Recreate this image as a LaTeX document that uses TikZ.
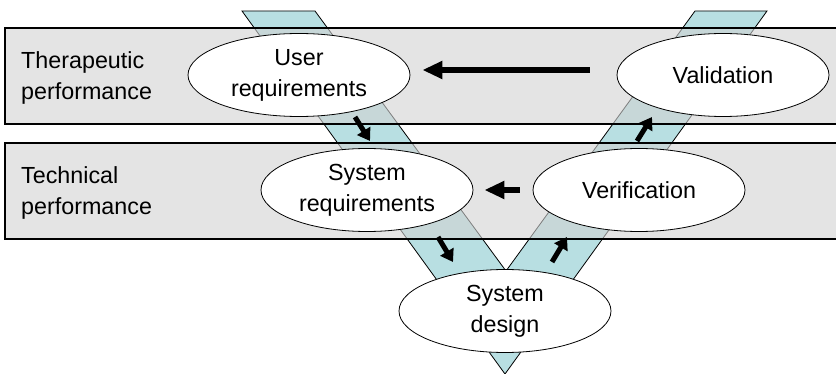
\documentclass[tikz,border=0pt]{standalone}
\usepackage{fontspec}
\setmainfont{Liberation Sans}
\usetikzlibrary{arrows.meta,shapes.geometric}

\definecolor{vteal}{RGB}{184,223,226}
\definecolor{bandgray}{RGB}{210,210,210}

\tikzset{
	band/.style={draw=black, line width=1.4pt, fill=bandgray, fill opacity=0.6},
	phase/.style={ellipse, draw=black, line width=0.8pt, fill=white, minimum width=212pt,
		minimum height=83pt, inner sep=0pt, align=center, font=\fontsize{23.3}{31}\selectfont},
	level/.style={anchor=west, inner sep=0pt, align=left, font=\fontsize{23.3}{31}\selectfont},
	fatarrow/.style={line width=6pt, -{Triangle[length=20pt,width=17pt]}},
	flowarrow/.style={line width=5pt, -{Triangle[length=12pt,width=15pt]}}
}

\begin{document}
\begin{tikzpicture}[x=1pt, y=-1pt]
	\clip (0,0) rectangle (836,374);
	% the V
	\draw[line width=0.8pt, fill=vteal] (242,11) -- (315,11) -- (506,271) -- (695,11)
		-- (767,11) -- (505,374) -- cycle;
	% the two performance levels
	\draw[band] (5,28) rectangle (850,124);
	\draw[band] (5,143) rectangle (850,239);
	\node[level] (ther) at (21,78) {Therapeutic\\performance};
	\node[level] (tech) at (21,193) {Technical\\performance};
	% phases
	\node[phase, minimum width=222pt] (userreq) at (299,75) {User\\requirements};
	\node[phase] (valid) at (723,75) {Validation};
	\node[phase] (sysreq) at (367,190) {System\\requirements};
	\node[phase] (verif) at (639,190) {Verification};
	\node[phase] (sysdes) at (505,311) {System\\design};
	% arrows
	\draw[fatarrow, shorten <=27pt, shorten >=12pt] ([yshift=5pt]valid.west) -- ([yshift=5pt]userreq.east);
	\draw[fatarrow, shorten <=13pt, shorten >=11pt] (verif.west) -- (sysreq.east);
	\coordinate (d1a) at (355,117);
	\coordinate (d1b) at (370,141);
	\coordinate (d2a) at (438,237);
	\coordinate (d2b) at (453,262);
	\coordinate (d3a) at (552,262);
	\coordinate (d3b) at (567,237);
	\coordinate (d4a) at (637,141);
	\coordinate (d4b) at (652,117);
	\draw[flowarrow] (d1a) -- (d1b);
	\draw[flowarrow] (d2a) -- (d2b);
	\draw[flowarrow] (d3a) -- (d3b);
	\draw[flowarrow] (d4a) -- (d4b);
\end{tikzpicture}
\end{document}
